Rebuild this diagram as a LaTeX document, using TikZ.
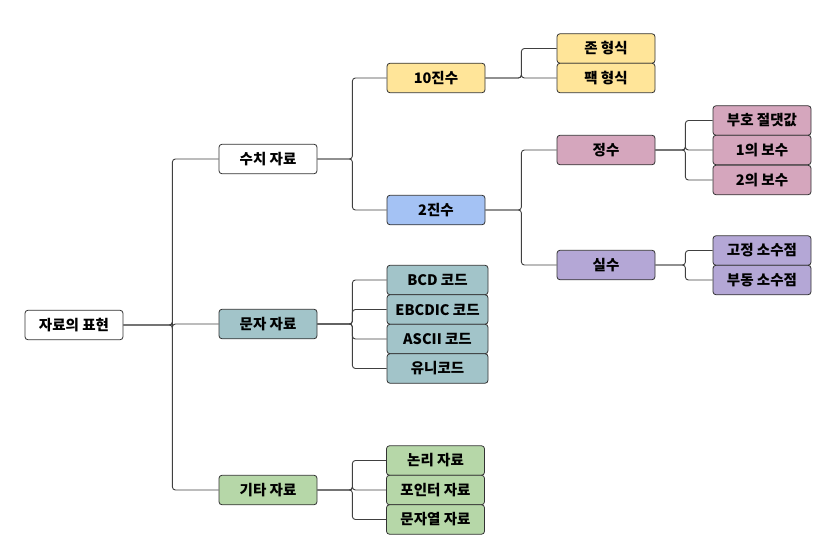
\documentclass[tikz,border=0pt]{standalone}
\usepackage{fontspec}
\setmainfont{Noto Sans CJK KR}
\usepackage{tikz}
\usetikzlibrary{positioning}

\definecolor{decyellow}{HTML}{FFE599}
\definecolor{binblue}{HTML}{A4C2F4}
\definecolor{intpink}{HTML}{D5A6BD}
\definecolor{realpurple}{HTML}{B4A7D6}
\definecolor{charteal}{HTML}{A2C4C9}
\definecolor{etcgreen}{HTML}{B6D7A8}

\begin{document}
\begin{tikzpicture}[
  x=1pt, y=-1pt,
  font=\fontsize{14.5}{16}\selectfont\bfseries,
  box/.style={draw=black!80, line width=0.8pt, rounded corners=3pt,
              minimum width=98pt, minimum height=29.5pt, inner sep=0pt},
  plainbox/.style={box, fill=white},
  decbox/.style={box, fill=decyellow},
  binbox/.style={box, fill=binblue},
  intbox/.style={box, fill=intpink},
  realbox/.style={box, fill=realpurple},
  charbox/.style={box, fill=charteal},
  etcbox/.style={box, fill=etcgreen},
  link/.style={draw=black!75, line width=0.9pt, rounded corners=3pt},
]
  \useasboundingbox (0,0) rectangle (820,543);

  % --- root and first level ---
  \node[plainbox] (root) at (74,325) {자료의 표현};
  \node[plainbox] (num)  at (268,159) {수치 자료};
  \node[charbox]  (chr)  at (268,324) {문자 자료};
  \node[etcbox]   (etc)  at (268,490) {기타 자료};

  % --- numeric data ---
  \node[decbox] (dec) at (436,78) {10진수};
  \node[binbox] (bin) at (436,210) {2진수};
  \node[decbox] (zone) at (606,48.5) {존 형식};
  \node[decbox] (pack) at (606,78) {팩 형식};
  \node[intbox]  (int)  at (606,150) {정수};
  \node[realbox] (real) at (606,265) {실수};
  \node[intbox] (sign) at (762,120.5) {부호 절댓값};
  \node[intbox] (one)  at (762,150) {1의 보수};
  \node[intbox] (two)  at (762,180) {2의 보수};
  \node[realbox] (fixed) at (762,250.5) {고정 소수점};
  \node[realbox] (float) at (762,280) {부동 소수점};

  % --- character data ---
  \node[charbox, minimum width=101pt] (bcd)    at (437.5,280) {BCD 코드};
  \node[charbox, minimum width=101pt] (ebcdic) at (437.5,309.5) {EBCDIC 코드};
  \node[charbox, minimum width=101pt] (ascii)  at (437.5,339) {ASCII 코드};
  \node[charbox, minimum width=101pt] (uni)    at (437.5,368.5) {유니코드};

  % --- other data ---
  \node[etcbox] (logic) at (435.5,460.5) {논리 자료};
  \node[etcbox] (ptr)   at (435.5,490) {포인터 자료};
  \node[etcbox] (str)   at (435.5,519.5) {문자열 자료};

  % --- connectors ---
  \foreach \c in {num,chr,etc}
    \draw[link] (root.east) -- ++(49,0) |- (\c.west);
  \foreach \c in {dec,bin}
    \draw[link] (num.east) -- ++(35,0) |- (\c.west);
  \foreach \c in {zone,pack}
    \draw[link] (dec.east) -- ++(36,0) |- (\c.west);
  \foreach \c in {int,real}
    \draw[link] (bin.east) -- ++(36,0) |- (\c.west);
  \foreach \c in {sign,one,two}
    \draw[link] (int.east) -- ++(30,0) |- (\c.west);
  \foreach \c in {fixed,float}
    \draw[link] (real.east) -- ++(30,0) |- (\c.west);
  \foreach \c in {bcd,ebcdic,ascii,uni}
    \draw[link] (chr.east) -- ++(35,0) |- (\c.west);
  \foreach \c in {logic,ptr,str}
    \draw[link] (etc.east) -- ++(35,0) |- (\c.west);
\end{tikzpicture}
\end{document}
